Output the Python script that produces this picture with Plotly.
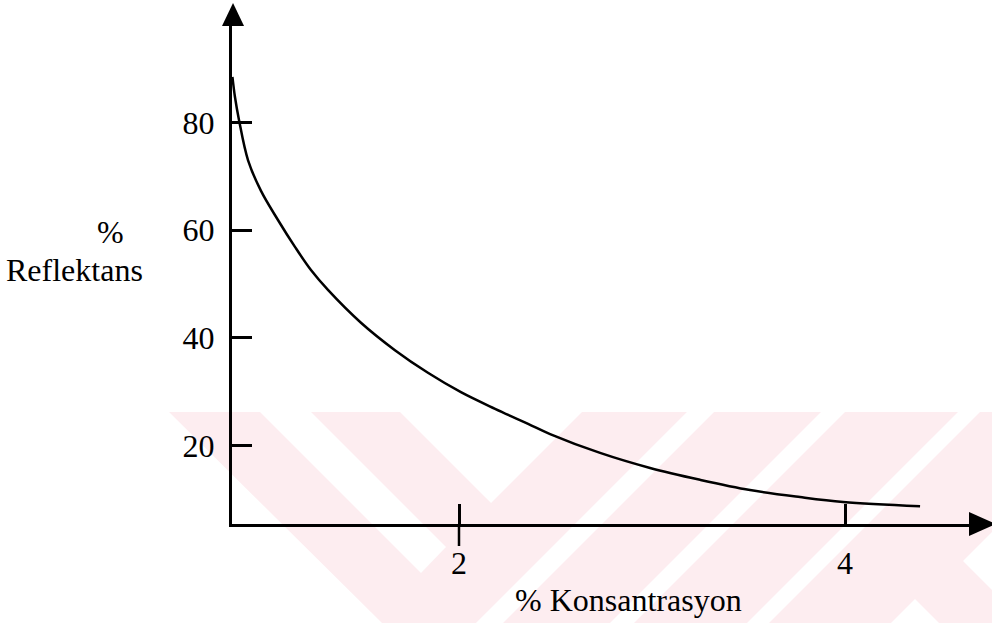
import plotly.graph_objects as go

# curve
konsantrasyon = [0.826, 0.839, 0.860, 0.907, 0.974, 1.062, 1.150, 1.233, 1.321,
                 1.492, 1.668, 1.839, 2.010, 2.187, 2.358, 2.472, 2.731, 2.990, 3.249,
                 3.508, 3.767, 3.990, 4.389]
reflektans = [88.5, 84.8, 80.5, 73.0, 67.3, 61.9, 56.9, 52.6, 48.9,
              42.8, 37.7, 33.5, 29.9, 26.8, 24.0, 22.1, 18.6, 15.8, 13.6,
              11.7, 10.4, 9.5, 8.7]

x_ticks = [2, 4]
x_ticktext = ["2", "4"]
y_ticks = [20, 40, 60, 80]
y_ticktext = ["20", "40", "60", "80"]

W, H = 992, 623
FONT = "Liberation Serif"


def px(x):
    return x / W


def py(y):
    return 1 - y / H


def poly(points):
    # pixel polygon -> svg path in paper coords
    s = "M " + " L ".join(f"{px(a):.4f},{py(b):.4f}" for a, b in points) + " Z"
    return s


# faint watermark in the background (pixel outlines)
pink = "#fdedf0"
wm_pink = [[(169, 412), (992, 412), (992, 623), (382, 623)]]
wm_white = [
    [(260, 412), (311, 412), (446, 547), (421, 573)],
    [(400, 412), (582, 412), (491, 503)],
    [(687, 412), (714, 412), (503, 623), (476, 623)],
    [(821, 412), (845, 412), (634, 623), (610, 623)],
    [(958, 412), (980, 412), (769, 623), (747, 623)],
    [(963, 561), (992, 532), (992, 590)],
    [(891, 623), (915, 599), (939, 623)],
]

shapes = []
for p in wm_pink:
    shapes.append(dict(type="path", xref="paper", yref="paper", path=poly(p),
                       fillcolor=pink, line=dict(width=0), layer="below"))
for p in wm_white:
    shapes.append(dict(type="path", xref="paper", yref="paper", path=poly(p),
                       fillcolor="white", line=dict(width=0), layer="below"))

# arrow heads
shapes.append(dict(type="path", xref="paper", yref="paper",
                   path=poly([(222, 26), (244, 26), (233, 3)]),
                   fillcolor="black", line=dict(width=0)))
shapes.append(dict(type="path", xref="paper", yref="paper",
                   path=poly([(969, 512), (969, 536), (996, 524)]),
                   fillcolor="black", line=dict(width=0)))
# lower half of the tick at 2 (it crosses the axis)
shapes.append(dict(type="line", xref="x", yref="paper", x0=2, x1=2,
                   y0=py(524), y1=py(546), line=dict(color="black", width=2.5)))

fig = go.Figure()
fig.add_trace(go.Scatter(x=konsantrasyon, y=reflektans, mode="lines",
                         line=dict(color="black", width=2.5, shape="spline", smoothing=1.0),
                         hoverinfo="skip", showlegend=False))

fig.update_layout(
    width=W, height=H,
    margin=dict(l=0, r=0, t=0, b=0),
    paper_bgcolor="white",
    plot_bgcolor="rgba(0,0,0,0)",
    font=dict(family=FONT, size=32, color="black"),
    shapes=shapes,
    xaxis=dict(domain=[px(232), px(975)], range=[0.8238, 4.6736],
               showgrid=False, zeroline=False, showline=True, linecolor="black", linewidth=3,
               tickmode="array", tickvals=x_ticks, ticktext=x_ticktext,
               ticks="inside", ticklen=20, tickwidth=2.5, tickcolor="black",
               ticklabelstandoff=9, tickfont=dict(family=FONT, size=32)),
    yaxis=dict(domain=[py(524), py(20)], range=[5.39, 99.07],
               showgrid=False, zeroline=False, showline=True, linecolor="black", linewidth=3,
               tickmode="array", tickvals=y_ticks, ticktext=y_ticktext,
               ticks="inside", ticklen=20, tickwidth=2.5, tickcolor="black",
               ticklabelstandoff=8, tickfont=dict(family=FONT, size=32)),
    annotations=[
        dict(text="%", xref="paper", yref="paper", x=px(110), y=py(232),
             showarrow=False, xanchor="center", yanchor="middle"),
        dict(text="Reflektans", xref="paper", yref="paper", x=px(74), y=py(270),
             showarrow=False, xanchor="center", yanchor="middle"),
        dict(text="% Konsantrasyon", xref="paper", yref="paper", x=px(628), y=py(600),
             showarrow=False, xanchor="center", yanchor="middle"),
    ],
)

# the page body has a default margin; drop it so the figure sits at the corner
fig.write_html("out.html", config={"displayModeBar": False},
               post_script="document.body.style.margin = '0px';")
